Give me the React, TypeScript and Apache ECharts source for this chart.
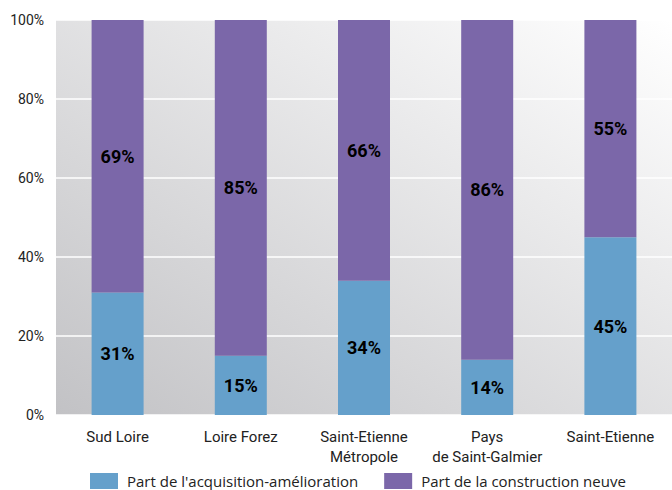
import React, { useEffect, useRef } from "react";
import * as echarts from "echarts";

const categories = [
  "Sud Loire",
  "Loire Forez",
  "Saint-Etienne\nMétropole",
  "Pays\nde Saint-Galmier",
  "Saint-Etienne",
];
const acquisition = [31, 15, 34, 14, 45];
const construction = [69, 85, 66, 86, 55];
const seriesNames = ["Part de l'acquisition-amélioration", "Part de la construction neuve"];
const yTicks = [0, 20, 40, 60, 80, 100];

const narrow = "Roboto, sans-serif";

export default function App() {
  const ref = useRef<HTMLDivElement>(null);
  useEffect(() => {
    if (!ref.current) return;
    const chart = echarts.init(ref.current, undefined, { renderer: "svg" });
    const label = {
      show: true,
      position: "inside",
      formatter: (p: any) => p.value + "%",
      color: "#000",
      fontWeight: "bold",
      fontSize: 18,
      fontFamily: narrow,
    };
    chart.setOption({
      animation: false,
      backgroundColor: "#fff",
      grid: {
        left: 56,
        top: 20,
        width: 621,
        height: 395,
        show: true,
        borderWidth: 0,
        backgroundColor: new echarts.graphic.LinearGradient(0, 1, 1, 0, [
          { offset: 0, color: "#c2c2c5" },
          { offset: 1, color: "#ffffff" },
        ]),
      },
      legend: {
        left: 90,
        top: 473,
        padding: 0,
        itemWidth: 28,
        itemHeight: 16,
        itemGap: 26,
        icon: "rect",
        textStyle: {
          fontSize: 15,
          color: "#222",
          fontFamily: "'Open Sans', sans-serif",
          padding: [0, 0, 0, 4],
        },
        data: seriesNames,
      },
      xAxis: {
        type: "category",
        data: categories,
        axisLine: { show: false },
        axisTick: { show: false },
        axisLabel: {
          interval: 0,
          color: "#222",
          fontSize: 15,
          fontFamily: narrow,
          margin: 12,
          lineHeight: 20,
          verticalAlign: "top",
        },
      },
      yAxis: {
        type: "value",
        min: yTicks[0],
        max: yTicks[yTicks.length - 1],
        interval: 20,
        axisLine: { show: false },
        axisTick: { show: false },
        splitLine: { lineStyle: { color: "#ffffff", width: 1.5 } },
        axisLabel: {
          formatter: "{value}%",
          color: "#222",
          fontSize: 14,
          fontFamily: narrow,
          margin: 12,
        },
      },
      series: [
        {
          name: seriesNames[0],
          type: "bar",
          stack: "total",
          barWidth: 52,
          data: acquisition,
          itemStyle: { color: "#65a0cb" },
          label,
        },
        {
          name: seriesNames[1],
          type: "bar",
          stack: "total",
          barWidth: 52,
          data: construction,
          itemStyle: { color: "#7b67a9" },
          label,
        },
      ],
    });
    return () => chart.dispose();
  }, []);
  return (
    <div
      ref={ref}
      style={{ position: "absolute", left: 0, top: 0, width: 672, height: 490 }}
    />
  );
}
